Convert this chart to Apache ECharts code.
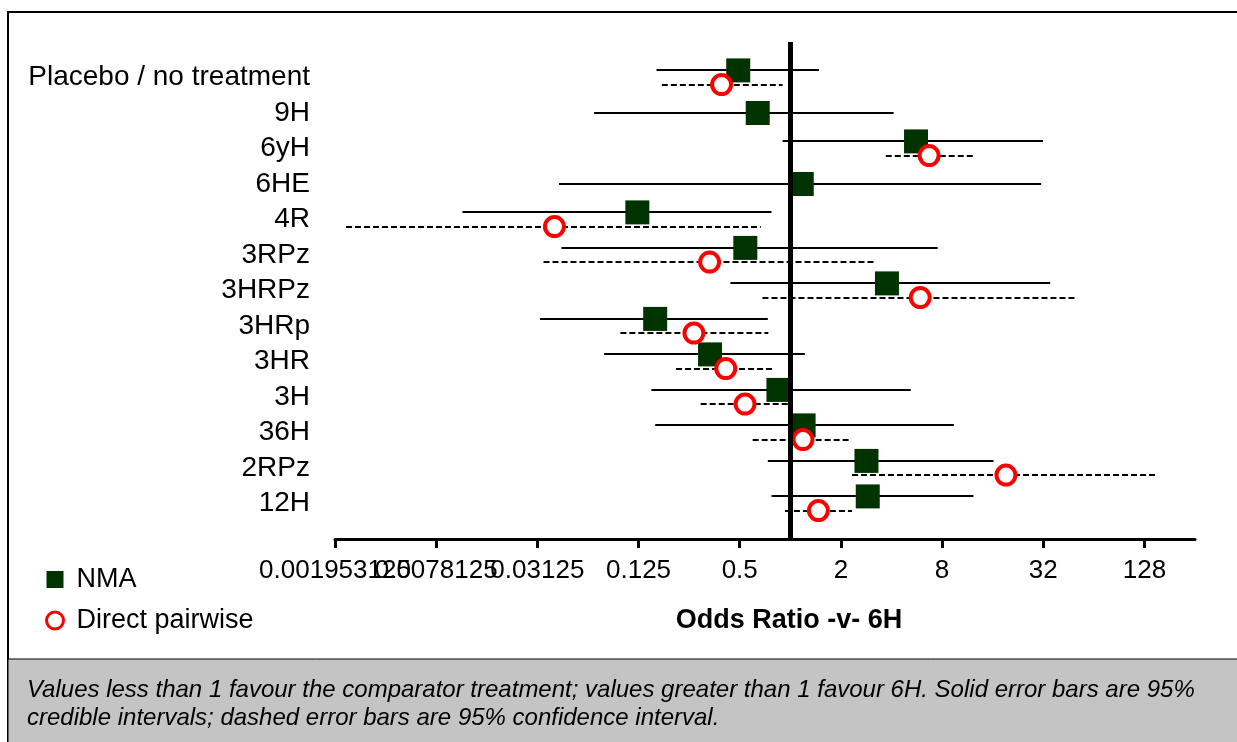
<!DOCTYPE html>
<html>
<head>
<meta charset="utf-8">
<script src="https://cdn.jsdelivr.net/npm/echarts@6/dist/echarts.min.js"></script>
<style>
  html, body { margin: 0; padding: 0; background: #fff; }
  #main { width: 1237px; height: 742px; }
</style>
</head>
<body>
<div id="main"></div>
<script>
// treatments, top to bottom
var categories = ['Placebo / no treatment', '9H', '6yH', '6HE', '4R', '3RPz', '3HRPz', '3HRp', '3HR', '3H', '36H', '2RPz', '12H'];

// NMA odds ratios with 95% credible intervals
var nmaMid  = [0.49, 0.64, 5.6, 1.17, 0.123, 0.54, 3.76, 0.157, 0.333, 0.85, 1.2, 2.84, 2.89];
var nmaLow  = [0.16, 0.068, 0.90, 0.042, 0.0112, 0.0435, 0.44, 0.0324, 0.078, 0.149, 0.157, 0.735, 0.773];
var nmaHigh = [1.48, 4.12, 31.9, 31.1, 0.773, 7.54, 35.2, 0.735, 1.22, 5.21, 9.41, 16.2, 12.3];

// direct pairwise odds ratios with 95% confidence intervals
var directMid  = [0.39, null, 6.7, null, 0.0395, 0.331, 5.93, 0.267, 0.413, 0.538, 1.19, 19.2, 1.47];
var directLow  = [0.172, null, 3.7, null, 0.00227, 0.034, 0.683, 0.0975, 0.209, 0.293, 0.597, 2.33, 0.929];
var directHigh = [0.90, null, 12.2, null, 0.667, 3.26, 51.2, 0.74, 0.792, 0.976, 2.26, 154, 2.33];

// axis ticks (odds ratio, powers of two)
var tickValues = [0.001953125, 0.0078125, 0.03125, 0.125, 0.5, 2, 8, 32, 128];

var FONT = '"Liberation Sans", Arial, sans-serif';
function lg(v) { return Math.log(v) / Math.LN2; }
var tickExp = tickValues.map(function (v) { return Math.round(lg(v)); });
// labels alternate between two axes so that the crowded ones on the left all stay visible
var tickExpA = tickExp.filter(function (v, i) { return i % 2 === 0; });
var tickExpB = tickExp.filter(function (v, i) { return i % 2 === 1; });

var nmaPts = [], nmaBars = [], dirPts = [], dirBars = [];
categories.forEach(function (c, i) {
  var hasDirect = directMid[i] != null;
  var yN = hasDirect ? i - 0.2 : i;
  nmaPts.push([lg(nmaMid[i]), yN]);
  nmaBars.push([lg(nmaLow[i]), lg(nmaHigh[i]), yN]);
  if (hasDirect) {
    dirPts.push([lg(directMid[i]), i + 0.2]);
    dirBars.push([lg(directLow[i]), lg(directHigh[i]), i + 0.2]);
  }
});

function whisker(dash) {
  return function (params, api) {
    var a = api.coord([api.value(0), api.value(2)]);
    var b = api.coord([api.value(1), api.value(2)]);
    var y = Math.round(a[1]);
    return {
      type: 'line',
      shape: { x1: a[0], y1: y, x2: b[0], y2: y },
      style: { stroke: '#000', lineWidth: 2, lineDash: dash }
    };
  };
}

function labelAxis(values, showLine) {
  return {
    type: 'value',
    position: 'bottom',
    min: -9,
    max: 8,
    splitLine: { show: false },
    axisLine: { show: showLine, onZero: false, lineStyle: { color: '#000', width: 3 } },
    axisTick: { show: showLine, length: 9, lineStyle: { color: '#000', width: 3 },
                customValues: tickExp },
    axisLabel: {
      customValues: values,
      formatter: function (v) { return String(Math.pow(2, Math.round(v))); },
      fontSize: 26, fontFamily: FONT, color: '#000', margin: 19, hideOverlap: false
    }
  };
}

var chart = echarts.init(document.getElementById('main'));
chart.setOption({
  animation: false,
  grid: { left: 335, right: 42, top: 42, bottom: 203 },
  graphic: [
    { type: 'rect', z: -10, shape: { x: 8, y: 12, width: 1240, height: 740 },
      style: { fill: 'none', stroke: '#000', lineWidth: 2 } },
    { type: 'rect', z: -5, shape: { x: 8, y: 659, width: 1240, height: 90 },
      style: { fill: '#c4c4c4', stroke: '#000', lineWidth: 1 } },
    { type: 'text', x: 27, y: 690,
      style: { text: 'Values less than 1 favour the comparator treatment; values greater than 1 favour 6H. Solid error bars are 95%',
               font: 'italic 24px ' + FONT, fill: '#000', verticalAlign: 'middle' } },
    { type: 'text', x: 27, y: 718,
      style: { text: 'credible intervals; dashed error bars are 95% confidence interval.',
               font: 'italic 24px ' + FONT, fill: '#000', verticalAlign: 'middle' } },
    { type: 'text', x: 789, y: 621,
      style: { text: 'Odds Ratio -v- 6H', font: 'bold 27px ' + FONT, fill: '#000',
               align: 'center', verticalAlign: 'middle' } }
  ],
  legend: {
    orient: 'vertical',
    left: 40,
    top: 561,
    itemWidth: 17,
    itemHeight: 17,
    itemGap: 14,
    textStyle: { fontSize: 27, fontFamily: FONT, color: '#000', padding: [0, 0, 0, 8] },
    data: [
      { name: 'NMA', icon: 'rect', itemStyle: { color: '#003300', borderWidth: 0 } },
      { name: 'Direct pairwise', icon: 'circle',
        itemStyle: { color: '#fff', borderColor: '#ff0000', borderWidth: 3 } }
    ]
  },
  xAxis: [labelAxis(tickExpA, true), labelAxis(tickExpB, false)],
  yAxis: {
    type: 'value',
    inverse: true,
    min: -1,
    max: 13,
    interval: 1,
    splitLine: { show: false },
    axisLine: { show: false },
    axisTick: { show: false },
    axisLabel: {
      formatter: function (v) { return categories[v] || ''; },
      fontSize: 28, fontFamily: FONT, color: '#000', margin: 25
    }
  },
  series: [
    { name: 'NMA CrI', type: 'custom', z: 2, renderItem: whisker(null),
      encode: { x: [0, 1], y: 2 }, data: nmaBars, silent: true },
    { name: 'Direct CI', type: 'custom', z: 2, renderItem: whisker([6, 3]),
      encode: { x: [0, 1], y: 2 }, data: dirBars, silent: true },
    { name: 'NMA', type: 'scatter', z: 3, symbol: 'rect', symbolSize: 24,
      itemStyle: { color: '#003300', opacity: 1 }, data: nmaPts,
      markLine: {
        silent: true, symbol: 'none', z: 6,
        label: { show: false },
        lineStyle: { color: '#000', width: 5, type: 'solid' },
        data: [{ xAxis: 0 }]
      } },
    { name: 'Direct pairwise', type: 'scatter', z: 4, symbol: 'circle', symbolSize: 19,
      itemStyle: { color: '#fff', borderColor: '#ff0000', borderWidth: 4, opacity: 1 },
      data: dirPts }
  ]
});
</script>
</body>
</html>
